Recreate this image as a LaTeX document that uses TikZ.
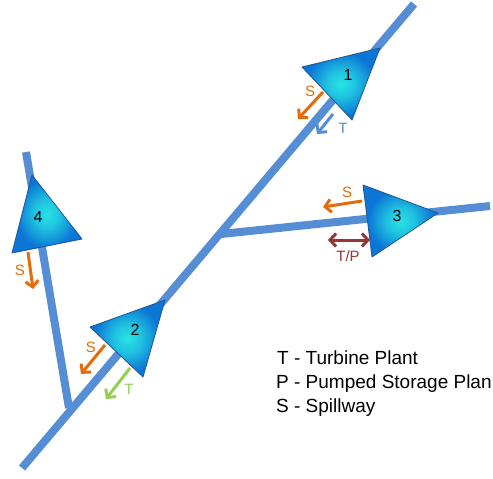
\documentclass[tikz,border=0pt]{standalone}
\usepackage{fontspec}
\setmainfont{Liberation Sans}
\usetikzlibrary{arrows.meta}

\definecolor{rivercol}{RGB}{85,142,213}
\definecolor{spillcol}{RGB}{228,108,10}
\definecolor{turbcol}{RGB}{85,142,213}
\definecolor{turbgreen}{RGB}{146,208,80}
\definecolor{pumpcol}{RGB}{149,55,53}
\definecolor{damin}{RGB}{40,228,228}
\definecolor{damout}{RGB}{12,118,214}
\definecolor{damedge}{RGB}{35,85,150}
\pgfdeclareradialshading{damshade}{\pgfpoint{0bp}{0bp}}{color(0bp)=(damin); color(9bp)=(damin!70!damout); color(22bp)=(damout); color(50bp)=(damout)}

\begin{document}
\begin{tikzpicture}[
  x=1pt, y=-1pt,
  river/.style={draw=rivercol, line width=8pt},
  dam/.style={shading=damshade, draw=damedge, line width=0.8pt, line join=round},
  flow/.style={line width=3pt, -{Straight Barb[length=6pt,width=13pt]}},
  flowboth/.style={line width=3pt, {Straight Barb[length=6pt,width=13pt]}-{Straight Barb[length=6pt,width=13pt]}},
  flowlbl/.style={inner sep=0pt, font=\fontsize{15}{15}\selectfont},
  damlbl/.style={inner sep=0pt, font=\fontsize{16}{16}\selectfont},
  key/.style={anchor=base west, inner sep=0pt, font=\fontsize{19}{19}\selectfont}
]
\useasboundingbox (0,0) rectangle (493,479);

\coordinate (mouth) at (22,468);
\coordinate (src1)  at (414,4);
\coordinate (conf3) at (221,234);
\coordinate (src3)  at (490,206);
\coordinate (src4)  at (26,152);
\coordinate (conf4) at (69,408);

\draw[river] (mouth) -- (src1);
\draw[river] (conf3) -- (src3);
\draw[river] (src4) -- (conf4);

\shadedraw[dam] (302,67) -- (380,48) -- (352,120) -- cycle;
\shadedraw[dam] (90,327) -- (165,300) -- (143,377) -- cycle;
\shadedraw[dam] (363,185) -- (438,213) -- (372,257) -- cycle;
\shadedraw[dam] (32,175) -- (82,239) -- (12,253) -- cycle;

\node[damlbl] (dam1) at (348,75)  {1};
\node[damlbl] (dam2) at (135,330) {2};
\node[damlbl] (dam3) at (397,216) {3};
\node[damlbl] (dam4) at (38,217)  {4};

\coordinate (s1a) at (323,92);  \coordinate (s1b) at (298,119);
\coordinate (t1a) at (333,114); \coordinate (t1b) at (317,134);
\coordinate (s2a) at (105,345); \coordinate (s2b) at (81,374);
\coordinate (t2a) at (130,368); \coordinate (t2b) at (106,399);
\coordinate (s3a) at (362,201); \coordinate (s3b) at (323,207);
\coordinate (p3a) at (328,240); \coordinate (p3b) at (370,240);
\coordinate (s4a) at (28,252);  \coordinate (s4b) at (33,289);

\draw[flow, spillcol] (s1a) -- (s1b);
\draw[flow, turbcol] (t1a) -- (t1b);
\draw[flow, spillcol] (s2a) -- (s2b);
\draw[flow, turbgreen] (t2a) -- (t2b);
\draw[flow, spillcol] (s3a) -- (s3b);
\draw[flowboth, pumpcol] (p3a) -- (p3b);
\draw[flow, spillcol] (s4a) -- (s4b);

\node[flowlbl, text=spillcol] (s1) at (310,91)  {S};
\node[flowlbl, text=turbcol] (t1) at (343,128) {T};
\node[flowlbl, text=spillcol] (s2) at (91,347)  {S};
\node[flowlbl, text=turbgreen] (t2) at (129,389) {T};
\node[flowlbl, text=spillcol] (s3) at (347,192) {S};
\node[flowlbl, text=pumpcol] (p3) at (348,256) {T/P};
\node[flowlbl, text=spillcol] (s4) at (20,270)  {S};

\node[key] (keyT) at (277,364) {T - Turbine Plant};
\node[key] (keyP) at (276,388) {P - Pumped Storage Plan};
\node[key] (keyS) at (276,412) {S - Spillway};
\end{tikzpicture}
\end{document}
